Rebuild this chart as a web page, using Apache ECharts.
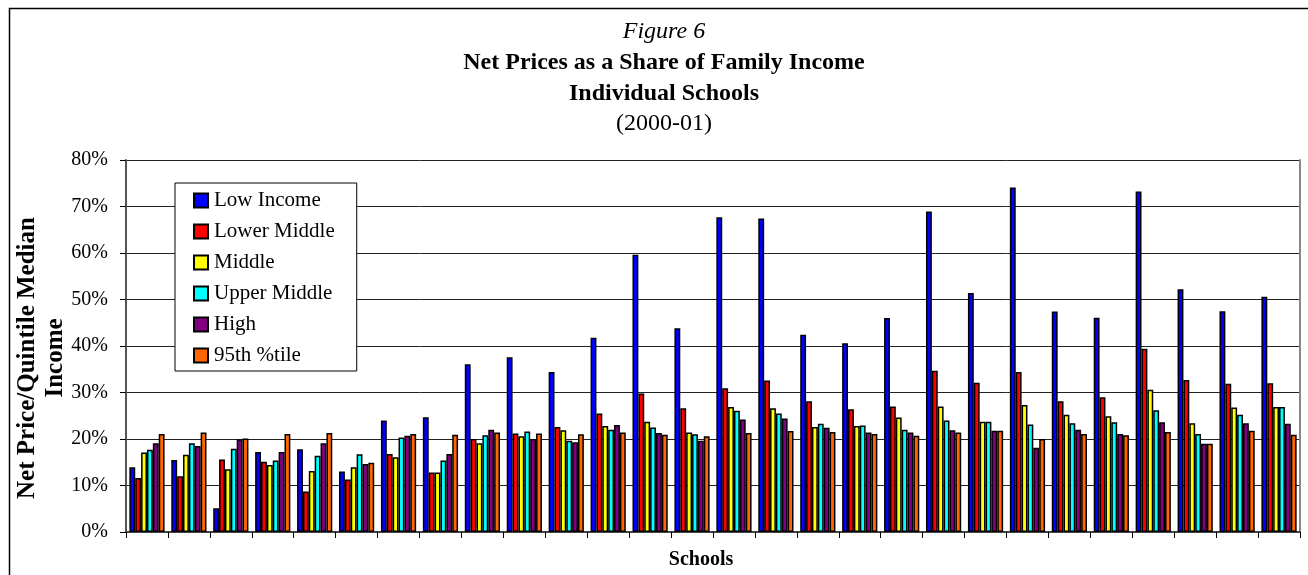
<!DOCTYPE html>
<html>
<head>
<meta charset="utf-8">
<script src="https://cdn.jsdelivr.net/npm/echarts@6/dist/echarts.min.js"></script>
<style>
  html, body { margin: 0; padding: 0; background: #fff; }
  #main { width: 1308px; height: 575px; }
</style>
</head>
<body>
<div id="main"></div>
<script>
// schools (28 of them, unlabelled on the axis)
const schools = [];
for (let i = 1; i <= 28; i++) schools.push('School ' + i);

const seriesNames = ['Low Income', 'Lower Middle', 'Middle', 'Upper Middle', 'High', '95th %tile'];
const colors = ['#0000ff', '#ff0000', '#ffff00', '#00ffff', '#800080', '#ff6600'];

// net price as share of quintile median income (%)
const lowIncome = [13.9, 15.5, 5.1, 17.2, 17.8, 13.0, 24.0, 24.7, 36.1, 37.6, 34.4, 41.8, 59.6, 43.8,
  67.7, 67.4, 42.4, 40.6, 46.0, 68.9, 51.4, 74.1, 47.4, 46.1, 73.2, 52.2, 47.5, 50.6];
const lowerMiddle = [11.6, 12.0, 15.6, 15.1, 8.7, 11.3, 16.8, 12.8, 20.0, 21.2, 22.6, 25.5, 29.8, 26.6,
  30.9, 32.6, 28.1, 26.4, 27.0, 34.7, 32.1, 34.4, 28.1, 29.0, 39.4, 32.7, 31.9, 32.0];
const middle = [17.1, 16.6, 13.5, 14.4, 13.1, 13.9, 16.1, 12.8, 19.1, 20.6, 21.9, 22.8, 23.7, 21.4,
  26.9, 26.6, 22.6, 22.8, 24.6, 27.0, 23.7, 27.3, 25.2, 24.9, 30.6, 23.4, 26.8, 26.9];
const upperMiddle = [17.7, 19.1, 17.9, 15.4, 16.4, 16.7, 20.3, 15.4, 20.8, 21.6, 19.6, 22.0, 22.5, 21.0,
  26.1, 25.5, 23.3, 22.9, 22.0, 24.0, 23.7, 23.1, 23.4, 23.6, 26.2, 21.1, 25.2, 26.9];
const high = [19.1, 18.5, 19.9, 17.2, 19.1, 14.6, 20.7, 16.8, 22.0, 20.0, 19.3, 23.0, 21.3, 19.6,
  24.2, 24.4, 22.4, 21.4, 21.4, 21.9, 21.8, 18.1, 22.0, 21.1, 23.6, 19.0, 23.4, 23.3];
const pct95 = [21.1, 21.4, 20.1, 21.1, 21.3, 14.9, 21.1, 20.9, 21.4, 21.2, 21.0, 21.4, 20.9, 20.6,
  21.3, 21.7, 21.5, 21.1, 20.7, 21.4, 21.8, 20.0, 21.1, 20.8, 21.5, 19.0, 21.8, 20.9];

const seriesData = [lowIncome, lowerMiddle, middle, upperMiddle, high, pct95];

const font = '"Times New Roman", "Liberation Serif", serif';
const chart = echarts.init(document.getElementById('main'), null, { renderer: 'canvas' });

const titleStyle = (weight, style) => ({ fontFamily: font, fontSize: 24, fontWeight: weight, fontStyle: style, color: '#000' });
// title block is centred a little right of the page centre in the original
const titleX = 659;

const option = {
  backgroundColor: '#fff',
  animation: false,
  textStyle: { fontFamily: font, color: '#000' },
  title: [
    { text: 'Figure 6', left: titleX, textAlign: 'center', top: 15, textStyle: titleStyle('normal', 'italic') },
    { text: 'Net Prices as a Share of Family Income', left: titleX, textAlign: 'center', top: 46, textStyle: titleStyle('bold', 'normal') },
    { text: 'Individual Schools', left: titleX, textAlign: 'center', top: 77, textStyle: titleStyle('bold', 'normal') },
    { text: '(2000-01)', left: titleX, textAlign: 'center', top: 107, textStyle: titleStyle('normal', 'normal') }
  ],
  graphic: [{
    type: 'rect',
    shape: { x: 9.5, y: 8.5, width: 1310, height: 580 },
    style: { fill: 'none', stroke: '#000', lineWidth: 1.5 },
    silent: true
  }],
  legend: {
    orient: 'vertical',
    left: 175,
    top: 183,
    data: seriesNames,
    icon: 'rect',
    itemWidth: 14,
    itemHeight: 14,
    itemGap: 10,
    padding: [7, 22, 5, 18],
    backgroundColor: '#fff',
    borderColor: '#000',
    borderWidth: 1,
    textStyle: { fontFamily: font, fontSize: 21, fontWeight: 'normal', color: '#000', padding: [0, 0, 0, 1] }
  },
  grid: { left: 126, top: 160, right: 8, bottom: 43, containLabel: false, outerBoundsMode: 'none' },
  xAxis: {
    type: 'category',
    data: schools,
    name: 'Schools',
    nameLocation: 'middle',
    nameGap: 18,
    nameMoveOverlap: false,
    nameTextStyle: { fontFamily: font, fontSize: 20, fontWeight: 'bold', color: '#000', padding: [0, 24, 0, 0] },
    axisLine: { lineStyle: { color: '#444', width: 2 } },
    axisTick: { show: true, interval: 0, length: 6, lineStyle: { color: '#000', width: 1 } },
    axisLabel: { show: false, interval: 0 },
    splitLine: { show: false }
  },
  yAxis: [{
    type: 'value',
    min: 0,
    max: 80,
    interval: 10,
    name: 'Net Price/Quintile Median\nIncome',
    nameLocation: 'middle',
    nameRotate: 90,
    nameGap: 56,
    nameMoveOverlap: false,
    nameTextStyle: { fontFamily: font, fontSize: 25, fontWeight: 'bold', color: '#000', lineHeight: 28, padding: [0, 24, 0, 0] },
    axisLine: { show: true, lineStyle: { color: '#555', width: 2 } },
    axisTick: { show: true, length: 6, lineStyle: { color: '#000' } },
    axisLabel: { fontFamily: font, fontSize: 20, fontWeight: 'normal', color: '#000', margin: 18, formatter: '{value}%' },
    splitLine: { show: true, lineStyle: { color: '#222', width: 1 } }
  }, {
    type: 'value',
    position: 'right',
    min: 0,
    max: 80,
    interval: 10,
    axisLine: { show: true, lineStyle: { color: '#888', width: 2 } },
    axisTick: { show: false },
    axisLabel: { show: false },
    splitLine: { show: false }
  }],
  series: seriesData.map((d, i) => ({
    name: seriesNames[i],
    type: 'bar',
    data: d,
    barGap: '0%',
    barCategoryGap: '16%',
    itemStyle: { color: colors[i], borderColor: '#000', borderWidth: 1.5 }
  }))
};

chart.setOption(option);
</script>
</body>
</html>
